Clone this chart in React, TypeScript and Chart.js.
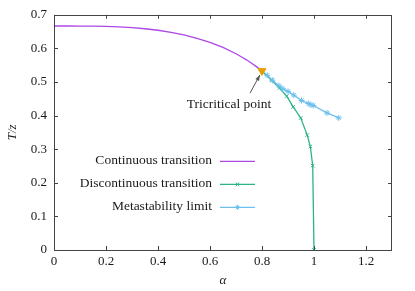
import React, { useEffect, useRef } from "react";
import { Chart, registerables } from "chart.js";

Chart.register(...registerables);

const FONT = '"Liberation Serif", "Times New Roman", serif';

const continuousAlpha = [0, 0.05, 0.1, 0.15, 0.2, 0.25, 0.3, 0.35, 0.4, 0.45, 0.5, 0.55, 0.6, 0.65, 0.7, 0.72, 0.74, 0.76, 0.78, 0.8];
const continuousT = [0.6667, 0.6667, 0.6665, 0.6662, 0.6655, 0.6639, 0.6617, 0.6585, 0.654, 0.648, 0.64, 0.63, 0.618, 0.603, 0.584, 0.575, 0.566, 0.556, 0.545, 0.533];

const discontinuousAlpha = [0.8, 0.837, 0.867, 0.895, 0.92, 0.949, 0.974, 0.986, 0.995, 1.0];
const discontinuousT = [0.533, 0.505, 0.482, 0.458, 0.426, 0.393, 0.342, 0.308, 0.251, 0.0];

const metastableAlpha = [0.82, 0.84, 0.865, 0.88, 0.9, 0.922, 0.952, 0.978, 0.988, 0.997, 1.05, 1.095];
const metastableT = [0.52, 0.505, 0.489, 0.48, 0.472, 0.461, 0.445, 0.436, 0.432, 0.43, 0.408, 0.393];

const tricriticalAlpha = [0.8];
const tricriticalT = [0.533];

const xTicks = [0, 0.2, 0.4, 0.6, 0.8, 1, 1.2];
const yTicks = [0, 0.1, 0.2, 0.3, 0.4, 0.5, 0.6, 0.7];

const seriesLabels = ["Continuous transition", "Discontinuous transition", "Metastability limit"];
const seriesColors = ["#ac48e4", "#2bb487", "#6cc0ee"];
const seriesMarkers = ["", "crossRot", "star"];
const tricriticalColor = "#E69F00";

const annotationText = "Tricritical point";
const annotationTextAt = [0.673, 0.434];
const annotationArrowFrom = [0.754, 0.467];
const annotationArrowTo = [0.792, 0.521];

const pts = (xs: number[], ys: number[]) => xs.map((x, i) => ({ x, y: ys[i] }));

const fmt = (v: number) => String(Math.round(v * 10) / 10);

const TEXT = "#1a1a1a";
const LABEL_FONT = `13.5px ${FONT}`;

function drawMarker(ctx: CanvasRenderingContext2D, style: string, r: number, x: number, y: number) {
  if (!style) return;
  const d = r * Math.SQRT1_2;
  ctx.beginPath();
  ctx.moveTo(x - d, y - d); ctx.lineTo(x + d, y + d);
  ctx.moveTo(x - d, y + d); ctx.lineTo(x + d, y - d);
  if (style === "star") {
    ctx.moveTo(x, y - r); ctx.lineTo(x, y + r);
    ctx.moveTo(x - r, y); ctx.lineTo(x + r, y);
  }
  ctx.lineWidth = 1;
  ctx.stroke();
}

const framePlugin = {
  id: "frameTicks",
  afterDatasetsDraw(chart: any) {
    const { ctx, chartArea: a, scales } = chart;
    ctx.save();
    ctx.strokeStyle = "#444";
    ctx.lineWidth = 1;
    ctx.strokeRect(Math.round(a.left) + 0.5, Math.round(a.top) + 0.5, Math.round(a.right - a.left) - 1, Math.round(a.bottom - a.top));
    const tl = 4;
    ctx.beginPath();
    for (const v of xTicks) {
      const px = Math.round(scales.x.getPixelForValue(v)) + 0.5;
      ctx.moveTo(px, a.bottom);
      ctx.lineTo(px, a.bottom - tl);
      ctx.moveTo(px, a.top);
      ctx.lineTo(px, a.top + tl);
    }
    for (const v of yTicks) {
      const py = Math.round(scales.y.getPixelForValue(v)) + 0.5;
      ctx.moveTo(a.left, py);
      ctx.lineTo(a.left + tl, py);
      ctx.moveTo(a.right, py);
      ctx.lineTo(a.right - tl, py);
    }
    ctx.stroke();
    ctx.restore();
  },
};

const annotationPlugin = {
  id: "tricriticalNote",
  afterDatasetsDraw(chart: any) {
    const { ctx, scales } = chart;
    const sx = scales.x, sy = scales.y;
    ctx.save();
    ctx.fillStyle = TEXT;
    ctx.font = LABEL_FONT;
    ctx.textAlign = "center";
    ctx.textBaseline = "middle";
    ctx.fillText(annotationText, sx.getPixelForValue(annotationTextAt[0]), sy.getPixelForValue(annotationTextAt[1]));
    const x0 = sx.getPixelForValue(annotationArrowFrom[0]);
    const y0 = sy.getPixelForValue(annotationArrowFrom[1]);
    const x1 = sx.getPixelForValue(annotationArrowTo[0]);
    const y1 = sy.getPixelForValue(annotationArrowTo[1]);
    ctx.strokeStyle = "#555";
    ctx.fillStyle = "#555";
    ctx.lineWidth = 1;
    ctx.beginPath();
    ctx.moveTo(x0, y0);
    ctx.lineTo(x1, y1);
    ctx.stroke();
    const ang = Math.atan2(y1 - y0, x1 - x0);
    const hl = 6, hw = 0.35;
    ctx.beginPath();
    ctx.moveTo(x1, y1);
    ctx.lineTo(x1 - hl * Math.cos(ang - hw), y1 - hl * Math.sin(ang - hw));
    ctx.lineTo(x1 - hl * Math.cos(ang + hw), y1 - hl * Math.sin(ang + hw));
    ctx.closePath();
    ctx.fill();
    ctx.restore();
  },
};

const legendPlugin = {
  id: "keyBox",
  afterDatasetsDraw(chart: any) {
    const { ctx, chartArea: a } = chart;
    ctx.save();
    ctx.font = LABEL_FONT;
    ctx.textAlign = "right";
    ctx.textBaseline = "middle";
    const textRight = a.left + 158;
    const sx0 = a.left + 166;
    const sx1 = a.left + 201;
    const top = a.top + 146;
    const gap = 23;
    seriesLabels.forEach((label, i) => {
      const y = top + i * gap;
      ctx.fillStyle = TEXT;
      ctx.fillText(label, textRight, y);
      ctx.strokeStyle = seriesColors[i];
      ctx.lineWidth = 1.3;
      ctx.beginPath();
      ctx.moveTo(sx0, y + 0.5);
      ctx.lineTo(sx1, y + 0.5);
      ctx.stroke();
      drawMarker(ctx, seriesMarkers[i], 2.5, (sx0 + sx1) / 2, y + 0.5);
    });
    ctx.restore();
  },
};

export default function App() {
  const ref = useRef<HTMLCanvasElement | null>(null);
  useEffect(() => {
    document.body.style.margin = "0";
    if (!ref.current) return;
    const chart = new Chart(ref.current, {
      type: "scatter",
      data: {
        datasets: [
          {
            label: seriesLabels[0],
            data: pts(continuousAlpha, continuousT),
            showLine: true,
            borderColor: seriesColors[0],
            backgroundColor: seriesColors[0],
            borderWidth: 1.3,
            pointRadius: 0,
            tension: 0,
            order: 3,
          },
          {
            label: seriesLabels[1],
            data: pts(discontinuousAlpha, discontinuousT),
            showLine: true,
            borderColor: seriesColors[1],
            backgroundColor: seriesColors[1],
            borderWidth: 1.3,
            pointStyle: seriesMarkers[1],
            pointRadius: 2.5,
            pointBorderWidth: 1,
            tension: 0,
            order: 2,
          },
          {
            label: seriesLabels[2],
            data: pts(metastableAlpha, metastableT),
            showLine: true,
            borderColor: seriesColors[2],
            backgroundColor: seriesColors[2],
            borderWidth: 1.3,
            pointStyle: seriesMarkers[2],
            pointRadius: 3,
            pointBorderWidth: 1,
            tension: 0,
            order: 1,
          },
          {
            label: "Tricritical point",
            data: pts(tricriticalAlpha, tricriticalT),
            showLine: false,
            borderColor: tricriticalColor,
            backgroundColor: tricriticalColor,
            pointStyle: "triangle",
            rotation: 180,
            pointRadius: 4.5,
            pointBorderWidth: 1,
            order: 0,
          } as any,
        ],
      },
      options: {
        animation: false,
        responsive: false,
        maintainAspectRatio: false,
        layout: { padding: { top: 13, right: 23, left: 0, bottom: 0 } },
        plugins: { legend: { display: false }, tooltip: { enabled: false } },
        scales: {
          x: {
            type: "linear",
            min: 0,
            max: 1.3,
            afterFit: (s: any) => { s.height = 41; },
            afterBuildTicks: (s: any) => { s.ticks = xTicks.map((v) => ({ value: v })); },
            grid: { display: false, drawTicks: false },
            border: { display: false },
            ticks: { color: TEXT, font: { family: FONT, size: 13 }, padding: 4, callback: (v: any) => fmt(Number(v)), maxRotation: 0 },
            title: { display: true, text: "α", color: TEXT, font: { family: FONT, size: 13, style: "italic" }, padding: { top: 4, bottom: 3 } },
          },
          y: {
            type: "linear",
            min: 0,
            max: 0.7,
            afterFit: (s: any) => { s.width = 54; },
            afterBuildTicks: (s: any) => { s.ticks = yTicks.map((v) => ({ value: v })); },
            grid: { display: false, drawTicks: false },
            border: { display: false },
            ticks: { color: TEXT, font: { family: FONT, size: 13 }, padding: 7, callback: (v: any) => fmt(Number(v)) },
            title: { display: true, text: "T/z", color: TEXT, font: { family: FONT, size: 13, style: "italic" }, padding: { top: 5, bottom: 4 } },
          },
        },
      } as any,
      plugins: [framePlugin, annotationPlugin, legendPlugin],
    });
    return () => chart.destroy();
  }, []);
  return (
    <div style={{ width: 415, height: 291 }}>
      <canvas ref={ref} width={415} height={291} style={{ display: "block" }} />
    </div>
  );
}
